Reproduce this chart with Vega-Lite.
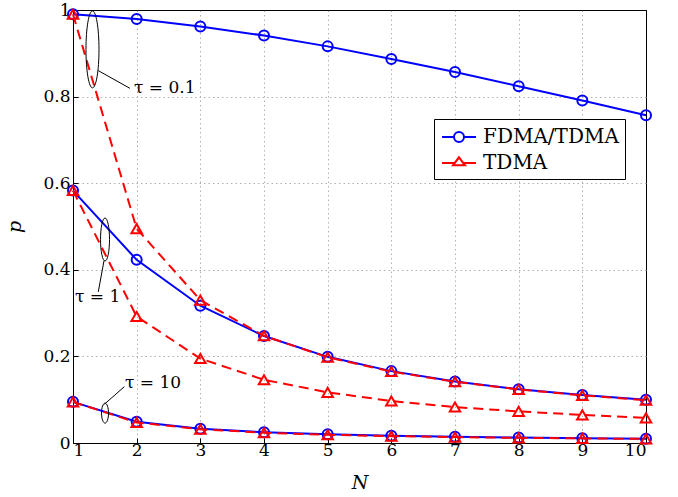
{
  "$schema": "https://vega.github.io/schema/vega-lite/v6.json",
  "width": 573,
  "height": 433,
  "autosize": {"type": "none"},
  "padding": {"left": 73, "top": 10, "right": 32, "bottom": 54},
  "background": "white",
  "config": {
    "view": {"stroke": "black", "strokeWidth": 1},
    "axis": {
      "labelFont": "DejaVu Serif",
      "labelFontSize": 17,
      "labelColor": "black",
      "titleFont": "DejaVu Serif",
      "titleFontSize": 19,
      "titleFontStyle": "italic",
      "titleFontWeight": "normal",
      "titleColor": "black",
      "domainColor": "black",
      "tickColor": "black",
      "gridWidth": 1,
      "ticks": true,
      "tickSize": -5
    }
  },
  "datasets": {
    "curves": [
      {"N": 1, "p": 0.990, "scheme": "FDMA/TDMA", "tau": "0.1"},
      {"N": 2, "p": 0.979, "scheme": "FDMA/TDMA", "tau": "0.1"},
      {"N": 3, "p": 0.962, "scheme": "FDMA/TDMA", "tau": "0.1"},
      {"N": 4, "p": 0.941, "scheme": "FDMA/TDMA", "tau": "0.1"},
      {"N": 5, "p": 0.916, "scheme": "FDMA/TDMA", "tau": "0.1"},
      {"N": 6, "p": 0.887, "scheme": "FDMA/TDMA", "tau": "0.1"},
      {"N": 7, "p": 0.857, "scheme": "FDMA/TDMA", "tau": "0.1"},
      {"N": 8, "p": 0.824, "scheme": "FDMA/TDMA", "tau": "0.1"},
      {"N": 9, "p": 0.791, "scheme": "FDMA/TDMA", "tau": "0.1"},
      {"N": 10, "p": 0.757, "scheme": "FDMA/TDMA", "tau": "0.1"},
      {"N": 1, "p": 0.583, "scheme": "FDMA/TDMA", "tau": "1"},
      {"N": 2, "p": 0.423, "scheme": "FDMA/TDMA", "tau": "1"},
      {"N": 3, "p": 0.317, "scheme": "FDMA/TDMA", "tau": "1"},
      {"N": 4, "p": 0.247, "scheme": "FDMA/TDMA", "tau": "1"},
      {"N": 5, "p": 0.199, "scheme": "FDMA/TDMA", "tau": "1"},
      {"N": 6, "p": 0.166, "scheme": "FDMA/TDMA", "tau": "1"},
      {"N": 7, "p": 0.142, "scheme": "FDMA/TDMA", "tau": "1"},
      {"N": 8, "p": 0.124, "scheme": "FDMA/TDMA", "tau": "1"},
      {"N": 9, "p": 0.111, "scheme": "FDMA/TDMA", "tau": "1"},
      {"N": 10, "p": 0.100, "scheme": "FDMA/TDMA", "tau": "1"},
      {"N": 1, "p": 0.095, "scheme": "FDMA/TDMA", "tau": "10"},
      {"N": 2, "p": 0.049, "scheme": "FDMA/TDMA", "tau": "10"},
      {"N": 3, "p": 0.033, "scheme": "FDMA/TDMA", "tau": "10"},
      {"N": 4, "p": 0.025, "scheme": "FDMA/TDMA", "tau": "10"},
      {"N": 5, "p": 0.020, "scheme": "FDMA/TDMA", "tau": "10"},
      {"N": 6, "p": 0.0167, "scheme": "FDMA/TDMA", "tau": "10"},
      {"N": 7, "p": 0.0143, "scheme": "FDMA/TDMA", "tau": "10"},
      {"N": 8, "p": 0.0125, "scheme": "FDMA/TDMA", "tau": "10"},
      {"N": 9, "p": 0.0111, "scheme": "FDMA/TDMA", "tau": "10"},
      {"N": 10, "p": 0.0100, "scheme": "FDMA/TDMA", "tau": "10"},
      {"N": 1, "p": 0.990, "scheme": "TDMA", "tau": "0.1"},
      {"N": 2, "p": 0.495, "scheme": "TDMA", "tau": "0.1"},
      {"N": 3, "p": 0.330, "scheme": "TDMA", "tau": "0.1"},
      {"N": 4, "p": 0.2475, "scheme": "TDMA", "tau": "0.1"},
      {"N": 5, "p": 0.198, "scheme": "TDMA", "tau": "0.1"},
      {"N": 6, "p": 0.165, "scheme": "TDMA", "tau": "0.1"},
      {"N": 7, "p": 0.1414, "scheme": "TDMA", "tau": "0.1"},
      {"N": 8, "p": 0.1238, "scheme": "TDMA", "tau": "0.1"},
      {"N": 9, "p": 0.110, "scheme": "TDMA", "tau": "0.1"},
      {"N": 10, "p": 0.099, "scheme": "TDMA", "tau": "0.1"},
      {"N": 1, "p": 0.583, "scheme": "TDMA", "tau": "1"},
      {"N": 2, "p": 0.292, "scheme": "TDMA", "tau": "1"},
      {"N": 3, "p": 0.195, "scheme": "TDMA", "tau": "1"},
      {"N": 4, "p": 0.146, "scheme": "TDMA", "tau": "1"},
      {"N": 5, "p": 0.117, "scheme": "TDMA", "tau": "1"},
      {"N": 6, "p": 0.097, "scheme": "TDMA", "tau": "1"},
      {"N": 7, "p": 0.083, "scheme": "TDMA", "tau": "1"},
      {"N": 8, "p": 0.073, "scheme": "TDMA", "tau": "1"},
      {"N": 9, "p": 0.065, "scheme": "TDMA", "tau": "1"},
      {"N": 10, "p": 0.058, "scheme": "TDMA", "tau": "1"},
      {"N": 1, "p": 0.095, "scheme": "TDMA", "tau": "10"},
      {"N": 2, "p": 0.0475, "scheme": "TDMA", "tau": "10"},
      {"N": 3, "p": 0.0317, "scheme": "TDMA", "tau": "10"},
      {"N": 4, "p": 0.0238, "scheme": "TDMA", "tau": "10"},
      {"N": 5, "p": 0.019, "scheme": "TDMA", "tau": "10"},
      {"N": 6, "p": 0.0158, "scheme": "TDMA", "tau": "10"},
      {"N": 7, "p": 0.0136, "scheme": "TDMA", "tau": "10"},
      {"N": 8, "p": 0.0119, "scheme": "TDMA", "tau": "10"},
      {"N": 9, "p": 0.0106, "scheme": "TDMA", "tau": "10"},
      {"N": 10, "p": 0.0095, "scheme": "TDMA", "tau": "10"}
    ]
  },
  "encoding": {
    "x": {
      "field": "N",
      "type": "quantitative",
      "scale": {"domain": [1, 10], "nice": false, "zero": false},
      "axis": {
        "values": [1, 2, 3, 4, 5, 6, 7, 8, 9, 10], "title": "N", "labelPadding": 4, "titlePadding": 15, "grid": true,
        "gridColor": {"condition": {"test": "datum.value === 10", "value": "black"}, "value": "#b0b0b0"},
        "gridDash": {"condition": {"test": "datum.value === 10", "value": [1, 0]}, "value": [1.5, 3]}
      }
    },
    "y": {
      "field": "p",
      "type": "quantitative",
      "scale": {"domain": [0, 1], "nice": false},
      "axis": {
        "values": [0, 0.2, 0.4, 0.6, 0.8, 1], "format": "~g", "title": "p", "labelPadding": 8, "titlePadding": 18, "grid": true,
        "gridColor": {"condition": {"test": "datum.value === 1", "value": "black"}, "value": "#b0b0b0"},
        "gridDash": {"condition": {"test": "datum.value === 1", "value": [1, 0]}, "value": [1.5, 3]}
      }
    }
  },
  "layer": [
    {
      "data": {"name": "curves"},
      "transform": [{"filter": "datum.scheme === 'FDMA/TDMA'"}],
      "mark": {"type": "line", "strokeWidth": 2, "color": "#0000ff"},
      "encoding": {"detail": {"field": "tau"}}
    },
    {
      "data": {"name": "curves"},
      "transform": [{"filter": "datum.scheme === 'FDMA/TDMA'"}],
      "mark": {"type": "point", "shape": "circle", "filled": false, "strokeWidth": 2, "size": 100, "opacity": 1, "color": "#0000ff"}
    },
    {
      "data": {"name": "curves"},
      "transform": [{"filter": "datum.scheme === 'TDMA'"}],
      "mark": {"type": "line", "strokeWidth": 2, "color": "#ff0000", "strokeDash": [10, 6]},
      "encoding": {"detail": {"field": "tau"}}
    },
    {
      "data": {"name": "curves"},
      "transform": [{"filter": "datum.scheme === 'TDMA'"}],
      "mark": {"type": "point", "shape": "triangle-up", "filled": false, "strokeWidth": 2, "size": 110, "opacity": 1, "color": "#ff0000"}
    },
    {
      "data": {"values": []},
      "mark": {"type": "point", "filled": false, "strokeWidth": 2, "opacity": 1},
      "encoding": {
        "color": {
          "field": "scheme", "type": "nominal",
          "scale": {"domain": ["FDMA/TDMA", "TDMA"], "range": ["#0000ff", "#ff0000"]},
          "legend": {
            "title": null, "orient": "none", "legendX": 361, "legendY": 109,
            "padding": 6, "rowPadding": 4, "symbolOffset": 7, "labelOffset": 12,
            "labelFont": "DejaVu Serif", "labelFontSize": 20, "labelColor": "black",
            "strokeColor": "black", "fillColor": "white", "symbolSize": 484, "symbolStrokeWidth": 2
          }
        },
        "shape": {
          "field": "scheme", "type": "nominal",
          "scale": {"domain": ["FDMA/TDMA", "TDMA"], "range": [
            "M-1.545,0L-0.455,0M0.455,0L1.545,0M0.455,0A0.455,0.455,0,1,1,-0.455,0A0.455,0.455,0,1,1,0.455,0Z",
            "M-1.545,0L-0.39,0M0.39,0L1.545,0M0,-0.52L0.545,0.21L-0.545,0.21Z"
          ]},
          "legend": {
            "title": null, "orient": "none", "legendX": 361, "legendY": 109,
            "padding": 6, "rowPadding": 4, "symbolOffset": 7, "labelOffset": 12,
            "labelFont": "DejaVu Serif", "labelFontSize": 20, "labelColor": "black",
            "strokeColor": "black", "fillColor": "white", "symbolSize": 484, "symbolStrokeWidth": 2
          }
        }
      }
    },
    {
      "data": {"values": [{"N": 1.306, "p": 0.909}]},
      "mark": {"type": "point", "shape": "M0,-1A0.169,1,0,1,1,0,1A0.169,1,0,1,1,0,-1Z", "size": 5929, "filled": false, "stroke": "black", "strokeWidth": 1, "opacity": 1}
    },
    {
      "data": {"values": [{"N": 1.503, "p": 0.470}]},
      "mark": {"type": "point", "shape": "M0,-1A0.209,1,0,1,1,0,1A0.209,1,0,1,1,0,-1Z", "size": 1849, "filled": false, "stroke": "black", "strokeWidth": 1, "opacity": 1}
    },
    {
      "data": {"values": [{"N": 1.503, "p": 0.069}]},
      "mark": {"type": "point", "shape": "M0,-1A0.35,1,0,1,1,0,1A0.35,1,0,1,1,0,-1Z", "size": 400, "filled": false, "stroke": "black", "strokeWidth": 1, "opacity": 1}
    },
    {
      "data": {"values": [
        {"N": 1.397, "p": 0.860, "N2": 1.895, "p2": 0.819},
        {"N": 1.487, "p": 0.421, "N2": 1.397, "p2": 0.349},
        {"N": 1.492, "p": 0.0894, "N2": 1.806, "p2": 0.130}
      ]},
      "mark": {"type": "rule", "color": "black", "strokeWidth": 1},
      "encoding": {
        "x2": {"field": "N2"},
        "y2": {"field": "p2"}
      }
    },
    {
      "data": {"values": [
        {"N": 1.958, "p": 0.820, "label": "τ = 0.1"},
        {"N": 1.031, "p": 0.337, "label": "τ = 1"},
        {"N": 1.817, "p": 0.1386, "label": "τ = 10"}
      ]},
      "mark": {"type": "text", "align": "left", "baseline": "middle", "font": "DejaVu Serif", "fontSize": 17, "color": "black"},
      "encoding": {
        "text": {"field": "label"}
      }
    }
  ]
}
